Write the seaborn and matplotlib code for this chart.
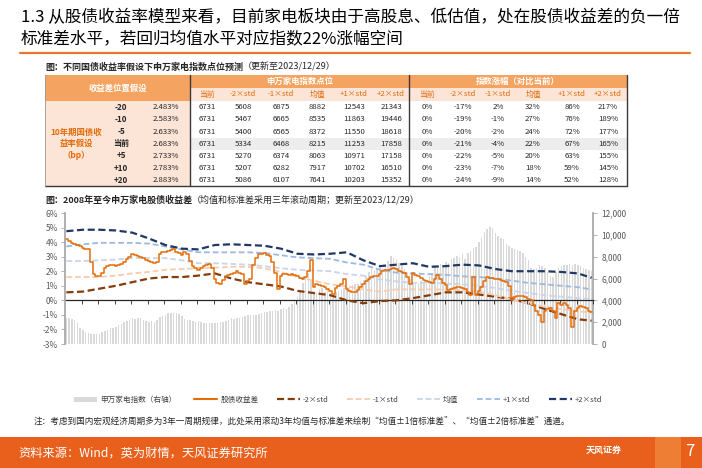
import numpy as np
import pandas as pd
import matplotlib
matplotlib.use("Agg")
import matplotlib.pyplot as plt
import seaborn as sns
from matplotlib.patches import Rectangle, Patch
from matplotlib.lines import Line2D

# ---------------- data ----------------
months = pd.date_range("2008-01-01", "2023-12-01", freq="MS")
tick_labels = [d.strftime("%Y/%m") for d in months[::6]]

sw_index = [
    2400, 2350, 2300, 2200, 1950, 1500, 1300, 1100, 1000, 900, 880, 900,
    950, 1100, 1150, 1300, 1450, 1500, 1600, 1750, 1800, 2000, 2150, 2200,
    2350, 2300, 2400, 2350, 2200, 2100, 2050, 2100, 2050, 2200, 2500, 2550,
    2700, 2800, 2850, 2850, 2800, 2750, 2600, 2300, 2200, 2200, 2100, 2050,
    2100, 2050, 1950, 1900, 1900, 1950, 1900, 1950, 2000, 2050, 2100, 2200,
    2350, 2300, 2400, 2350, 2500, 2600, 2650, 2700, 2650, 2700, 2750, 2800,
    2900, 2950, 3000, 3050, 3100, 3000, 3200, 3300, 3250, 3400, 3700, 3900,
    4300, 4800, 5600, 6200, 6500, 5800, 4600, 4700, 5000, 5100, 4800, 5000,
    4700, 4500, 4800, 4900, 5000, 5100, 5200, 5300, 5400, 5500, 5500, 5700,
    5900, 6200, 6600, 6900, 6800, 7000, 7100, 7000, 7300, 7600, 8100, 7900,
    7800, 7400, 7100, 6900, 6500, 6000, 5700, 5500, 5600, 5800, 5600, 5900,
    6200, 6500, 7200, 7000, 7300, 7200, 7500, 7400, 7800, 7900, 8100, 8000,
    8200, 7800, 8300, 8500, 8800, 8900, 9300, 9700, 10300, 10500, 10700, 10600,
    10200, 9900, 9700, 9600, 9200, 9000, 8800, 8700, 8600, 8500, 8300, 8000,
    7700, 7000, 6900, 7000, 7200, 7100, 7000, 6600, 6200, 6100, 6600, 7000,
    7100, 7200, 7200, 7300, 7200, 7300, 7200, 7100, 7000, 6900, 6800, 6731,
]

spread = [
    4.2, 4.05, 3.95, 3.85, 3.8, 3.7, 3.6, 3.55, 3.5, 2.6, 1.8, 1.7,
    1.65, 1.9, 2.2, 2.35, 2.45, 2.4, 2.35, 2.45, 2.5, 2.6, 2.85, 3.0,
    3.15, 3.1, 3.05, 3.0, 2.9, 2.8, 2.7, 2.6, 2.55, 2.6, 3.2, 3.3,
    3.35, 3.4, 3.45, 3.5, 3.35, 3.25, 3.1, 3.35, 3.2, 2.7, 2.35, 2.2,
    2.1, 2.2, 2.35, 2.4, 2.5, 2.2, 1.5, 1.2, 1.1, 1.4, 1.6, 1.75,
    1.8, 1.9, 2.0, 1.9, 1.8, 1.1, 1.35, 1.5, 2.4, 2.9, 3.15, 3.2,
    3.25, 3.1, 3.05, 2.6, 1.9, 0.8, 1.7, 1.8, 1.8, 1.75, 1.8, 1.75,
    1.65, 1.55, 1.45, 1.6, 2.0, 2.8, 0.9, 1.1, 1.05, 1.0, 0.9, 0.75,
    0.65, 0.45, 0.85, 1.0, 1.1, 1.5, 0.75, 0.65, 0.6, 0.55, 0.7, 0.9,
    1.1, 1.3, 1.45, 1.6, 1.65, 1.7, 1.8, 2.0, 2.05, 2.1, 2.15, 2.2,
    2.15, 2.0, 1.95, 1.85, 1.6, 1.1, 1.9, 1.75, 1.65, 1.55, 1.4, 1.3,
    1.25, 1.2, 1.5, 1.75, 1.45, 1.2, 1.05, 0.7, 0.75, 0.85, 0.95, 0.95,
    0.85, 0.75, 0.6, 0.4, 1.6, 0.35, 0.65, 0.95, 1.3, 1.6, 1.55, 1.55,
    1.5, 1.45, 1.4, 1.3, 1.25, 1.0, 0.05, 0.2, 0.3, 0.3, 0.3, 0.25,
    0.1, 0.0, -0.35, -0.7, -1.0, -1.5, -0.75, -0.6, -0.5, -0.7, -1.2, -0.2,
    -0.3, -0.15, -0.3, -0.55, -1.85, -0.75, -0.5, -0.4, -0.45, -0.5, -0.7, -0.8,
]

band_dates = [f"{y}/{m:02d}" for y in range(2008, 2024) for m in (1, 7)] + ["2023/12"]
std_p2 = [4.75, 4.85, 4.85, 4.8, 4.65, 4.25, 3.8, 3.55, 3.5, 3.8, 3.85, 3.8, 3.75,
          3.55, 3.2, 3.15, 3.2, 3.3, 2.75, 2.35, 2.45, 2.55, 2.3, 2.35, 2.45, 2.4,
          2.15, 2.0, 2.0, 2.0, 1.95, 1.85, 1.55]
std_p1 = [3.7, 3.85, 3.95, 3.95, 3.95, 3.9, 3.7, 3.5, 3.3, 3.3, 3.3, 3.3, 3.25,
          3.1, 2.95, 2.9, 2.85, 2.6, 2.45, 2.1, 1.9, 1.85, 1.8, 1.75, 1.65, 1.6,
          1.5, 1.35, 1.2, 1.1, 1.0, 0.9, 0.75]
std_mean = [2.7, 2.7, 2.75, 2.8, 2.9, 2.9, 2.9, 2.75, 2.55, 2.55, 2.5, 2.45, 2.35,
            2.2, 2.1, 2.05, 2.0, 1.8, 1.7, 1.45, 1.3, 1.2, 1.2, 1.15, 1.1, 1.0,
            0.85, 0.65, 0.5, 0.35, 0.25, 0.15, 0.1]
std_m1 = [1.6, 1.6, 1.6, 1.7, 1.85, 1.95, 2.1, 2.15, 2.2, 2.25, 2.3, 2.3, 2.2,
          1.95, 1.6, 1.35, 1.1, 0.95, 0.75, 0.6, 0.75, 0.75, 0.75, 0.75, 0.7, 0.6,
          0.35, 0.05, -0.2, -0.45, -0.6, -0.75, -0.85]
std_m2 = [0.55, 0.6, 0.8, 1.0, 1.25, 1.5, 1.6, 1.6, 1.7, 1.85, 1.5, 1.25, 1.1,
          0.95, 0.65, 0.5, 0.35, 0.0, -0.2, -0.05, 0.0, 0.15, 0.35, 0.55, 0.55, 0.4,
          0.25, 0.1, -0.2, -0.6, -0.95, -1.3, -1.4]

# table data
bp_labels = ["-20", "-10", "-5", "当前", "+5", "+10", "+20"]
yield_labels = ["2.483%", "2.583%", "2.633%", "2.683%", "2.733%", "2.783%", "2.883%"]
col_labels = ["当前", "-2×std", "-1×std", "均值", "+1×std", "+2×std"]
idx_points = [
    [6731, 5608, 6875, 8882, 12543, 21343],
    [6731, 5467, 6665, 8535, 11863, 19446],
    [6731, 5400, 6565, 8372, 11550, 18618],
    [6731, 5334, 6468, 8215, 11253, 17858],
    [6731, 5270, 6374, 8063, 10971, 17158],
    [6731, 5207, 6282, 7917, 10702, 16510],
    [6731, 5086, 6107, 7641, 10203, 15352],
]
idx_change = [
    [0, -17, 2, 32, 86, 217],
    [0, -19, -1, 27, 76, 189],
    [0, -20, -2, 24, 72, 177],
    [0, -21, -4, 22, 67, 165],
    [0, -22, -5, 20, 63, 155],
    [0, -23, -7, 18, 59, 145],
    [0, -24, -9, 14, 52, 128],
]

# ---------------- style ----------------
sns.set_theme(style="white")
plt.rcParams["font.family"] = ["Noto Sans CJK SC", "DejaVu Sans"]
plt.rcParams["axes.unicode_minus"] = False

W, H = 702, 468
fig = plt.figure(figsize=(7.02, 4.68), dpi=100)
fig.patch.set_facecolor("white")


def fx(x):
    return x / W


def fy(y):
    return 1 - y / H


def rect(x0, y0, x1, y1, color):
    fig.add_artist(Rectangle((fx(x0), fy(y1)), (x1 - x0) / W, (y1 - y0) / H,
                             transform=fig.transFigure, facecolor=color,
                             edgecolor="none", zorder=0))


def line(x0, y0, x1, y1, color, lw):
    fig.add_artist(Line2D([fx(x0), fx(x1)], [fy(y0), fy(y1)],
                          transform=fig.transFigure, color=color, lw=lw))


def txt(x, y, s, size, color="#262626", ha="left", va="center", weight="normal", **kw):
    return fig.text(fx(x), fy(y), s, fontsize=size, color=color, ha=ha, va=va,
                    fontweight=weight, **kw)


renderer = fig.canvas.get_renderer()


def two_part(x, y, s1, s2, size):
    t = txt(x, y, s1, size, weight="bold")
    bb = t.get_window_extent(renderer)
    txt(bb.x1, y, s2, size)


ORANGE = "#E36C09"

# ---------------- title ----------------
txt(21, 18, "1.3 从股债收益率模型来看，目前家电板块由于高股息、低估值，处在股债收益差的负一倍",
    12.0, color="#000000")
txt(21, 40, "标准差水平，若回归均值水平对应指数22%涨幅空间", 12.0, color="#000000")
line(20, 53, 690, 53, "#E8762B", 1.6)

# ---------------- table ----------------
two_part(45, 67, "图：不同国债收益率假设下申万家电指数点位预测", "（更新至2023/12/29）", 6.5)

HDR = "#F4A460"
PEACH = "#FCE4D6"
X0, XS1, XS2, X1 = 45, 190, 409, 627
Y0, YH, YS = 75, 88, 101
RH = 12.2
YB = YS + RH * 7
rect(X0, Y0, XS1, YS, HDR)
rect(XS1, Y0, X1, YH, HDR)
rect(XS1, YH, X1, YS, PEACH)
rect(X0, YS, XS1, YB, PEACH)
rect(XS1, YS + 3 * RH, X1, YS + 4 * RH, "#EDEDED")
for xv in (XS1, XS2, X1):
    line(xv, Y0, xv, YB, "#3A3A3A", 1.0)
line(X0, YB, X1, YB, "#3A3A3A", 1.0)
line(X0, Y0, X0, YB, "#9A9A9A", 0.6)

txt((X0 + XS1) / 2, (Y0 + YS) / 2, "收益差位置假设", 6, color="white", ha="center", weight="bold")
txt((XS1 + XS2) / 2, (Y0 + YH) / 2, "申万家电指数点位", 6, color="white", ha="center", weight="bold")
txt((XS2 + X1) / 2, (Y0 + YH) / 2, "指数涨幅（对比当前）", 6, color="white", ha="center", weight="bold")

idx_cx = [207, 243, 281, 317, 354, 391]
chg_cx = [427, 463, 498, 533, 572, 608]
for lab, cx1, cx2 in zip(col_labels, idx_cx, chg_cx):
    txt(cx1, (YH + YS) / 2, lab, 5.6, color=ORANGE, ha="center")
    txt(cx2, (YH + YS) / 2, lab, 5.6, color=ORANGE, ha="center")

txt(76, YS + 3.5 * RH, "10年期国债收\n益率假设\n（bp）", 6, color=ORANGE, ha="center",
    weight="bold", linespacing=1.35)
for i in range(7):
    cy = YS + RH * (i + 0.5)
    txt(121, cy, bp_labels[i], 5.8, ha="center", weight="bold")
    txt(166, cy, yield_labels[i], 5.6, ha="center")
    for j in range(6):
        txt(idx_cx[j], cy, f"{idx_points[i][j]}", 5.6, ha="center")
        txt(chg_cx[j], cy, f"{idx_change[i][j]}%", 5.6, ha="center")

# ---------------- chart ----------------
two_part(45, 200, "图：2008年至今申万家电股债收益差",
         "（均值和标准差采用三年滚动周期；更新至2023/12/29）", 6.5)

ax = fig.add_axes([fx(65), fy(344), (593 - 65) / W, (344 - 213) / H])
ax2 = ax.twinx()

pos = np.arange(len(months))
df_bar = pd.DataFrame({"m": pos, "idx": sw_index})
sns.barplot(data=df_bar, x="m", y="idx", native_scale=True, color="#D9D9D9",
            saturation=1, width=0.55, edgecolor="none", ax=ax2)

band_pos = [months.get_loc(pd.Timestamp(d.replace("/", "-") + "-01")) for d in band_dates]
band_styles = [
    (std_m2, "#843C0C", 1.6, "-2×std"),
    (std_m1, "#F8CBAD", 1.3, "-1×std"),
    (std_mean, "#C9D5E8", 1.3, "均值"),
    (std_p1, "#9DB9E0", 1.3, "+1×std"),
    (std_p2, "#203864", 1.6, "+2×std"),
]
for vals, col, lw, lab in band_styles:
    sns.lineplot(x=band_pos, y=vals, ax=ax, color=col, lw=lw,
                 linestyle=(0, (3.2, 1.6)))
sns.lineplot(x=pos, y=spread, ax=ax, color=ORANGE, lw=1.1, drawstyle="steps-mid")

ax.set_zorder(ax2.get_zorder() + 1)
ax.patch.set_visible(False)

ax.set_xlim(-0.5, 191.5)
ax2.set_xlim(-0.5, 191.5)
ax.set_ylim(-3, 6)
ax2.set_ylim(0, 12000)
ax.set_yticks(range(-3, 7))
ax.set_yticklabels([f"{v}%" for v in range(-3, 7)])
ax2.set_yticks(range(0, 12001, 2000))
ax2.set_yticklabels([f"{v:,}" for v in range(0, 12001, 2000)])
ax.set_xticks(pos[::6])
ax.set_xticklabels(tick_labels, rotation=45, ha="right", va="top", rotation_mode="anchor")
ax2.set_xticks([])
for a in (ax, ax2):
    a.set_xlabel("")
    a.set_ylabel("")
    a.grid(False)
    for s in ("top", "bottom"):
        a.spines[s].set_visible(False)
ax.spines["right"].set_visible(False)
ax2.spines["left"].set_visible(False)
ax.spines["left"].set_color("#A6A6A6")
ax2.spines["right"].set_color("#A6A6A6")
ax.tick_params(axis="y", direction="out", length=3, width=0.6, color="#A6A6A6",
               labelsize=6, labelcolor="#595959", pad=2, left=True)
ax2.tick_params(axis="y", direction="out", length=3, width=0.6, color="#A6A6A6",
                labelsize=6, labelcolor="#595959", pad=3, right=True)
ax.tick_params(axis="x", length=0, labelsize=5.6, labelcolor="#595959", pad=3)

sec = ax.secondary_xaxis(1 / 3)
sec.set_xticks(pos[5::6] + 0.5)
sec.tick_params(axis="x", direction="out", length=3, width=0.6, color="#262626",
                labelbottom=False, labeltop=False)
sec.spines["bottom"].set_color("#262626")
sec.spines["bottom"].set_linewidth(0.9)

handles = [Patch(facecolor="#D9D9D9", edgecolor="none"),
           Line2D([], [], color=ORANGE, lw=1.5)]
labels = ["申万家电指数（右轴）", "股债收益差"]
for vals, col, lw, lab in band_styles:
    handles.append(Line2D([], [], color=col, lw=lw, linestyle=(0, (3.2, 1.6))))
    labels.append(lab)
leg = fig.legend(handles, labels, loc="center", bbox_to_anchor=(fx(338), fy(400)),
                 ncol=7, frameon=False, fontsize=5.5, handlelength=3.0,
                 handleheight=0.6, handletextpad=0.4, columnspacing=2.4)
for t in leg.get_texts():
    t.set_color("#404040")

# ---------------- note & footer ----------------
txt(34, 422, "注：考虑到国内宏观经济周期多为3年一周期规律，此处采用滚动3年均值与标准差来绘制“均值±1倍标准差”、“均值±2倍标准差”通道。",
    6.2)
rect(0, 437, 702, 468, "#E8601C")
rect(655, 437, 681, 468, "#EE7E33")
txt(18, 453, "资料来源：Wind，英为财情，天风证券研究所", 8.8, color="white")
txt(586, 450, "天风证券", 6.5, color="white", weight="bold")
txt(690, 452, "7", 12, color="white", ha="center")

fig.savefig("out.png", dpi=100)
